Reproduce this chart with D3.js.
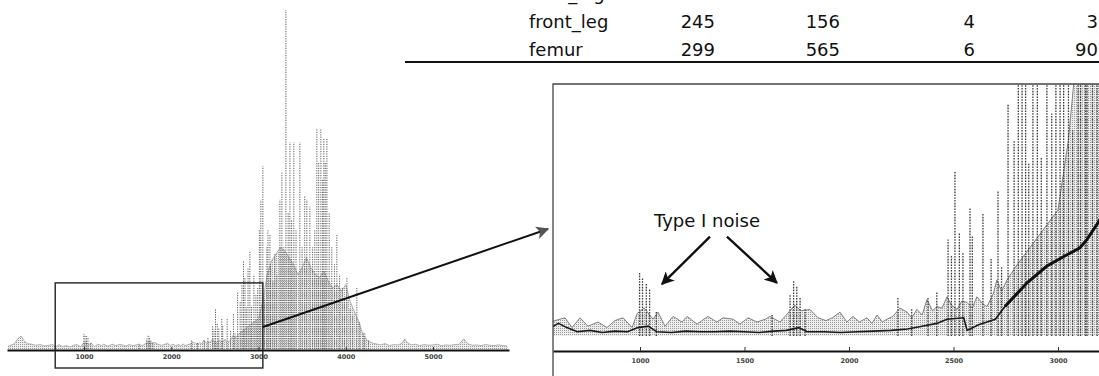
<!DOCTYPE html>
<html>
<head>
<meta charset="utf-8">
<script src="https://cdn.jsdelivr.net/npm/d3@7"></script>
<style>
  html, body { margin: 0; padding: 0; background: #fff; }
  svg { display: block; font-family: "DejaVu Sans", "Noto Sans", sans-serif; }
</style>
</head>
<body>
<svg id="fig" width="1099" height="376"></svg>
<script>
// ---- table rows (the top row is only partly on the page) ----
const rowLabels = ["hind_leg", "front_leg", "femur"];
const colA = [null, 245, 299];
const colB = [null, 156, 565];
const colC = [null, 4, 6];
const colD = [null, 3, 90];

// ---- spectrum: upper edge of the noise band (m/z, relative intensity) ----
const noiseMz = [130, 200, 240, 278, 310, 350, 400, 450, 500, 550, 593, 641, 675, 713, 751, 799, 842, 880, 919, 962,
  986, 1020, 1062, 1086, 1120, 1158, 1201, 1225, 1273, 1325, 1368, 1397, 1445, 1478, 1517, 1560, 1600, 1622, 1670, 1700,
  1740, 1770, 1813, 1852, 1890, 1920, 1957, 1990, 2019, 2050, 2086, 2110, 2134, 2160, 2182, 2210, 2244, 2278, 2300, 2325,
  2350, 2373, 2400, 2421, 2445, 2469, 2490, 2517, 2540, 2565, 2590, 2612, 2640, 2660, 2690, 2708, 2730, 2756, 2800, 2850,
  2900, 2950, 3000, 3050, 3100, 3150, 3200, 3250, 3300, 3350, 3400, 3450, 3500, 3550, 3600, 3650, 3700, 3750, 3800, 3850,
  3900, 3950, 4000, 4050, 4100, 4150, 4200, 4250, 4300, 4350, 4400, 4450, 4500, 4550, 4600, 4650, 4677, 4700, 4750, 4800,
  4850, 4900, 4950, 5000, 5050, 5100, 5150, 5200, 5250, 5300, 5353, 5400, 5450, 5500, 5550, 5600, 5650, 5700, 5750, 5800, 5850];
const noiseInt = [0.8, 1.5, 3.0, 3.8, 2.5, 1.6, 1.4, 1.1, 1.3, 0.9, 1.1, 1.3, 0.6, 1.3, 0.7, 1.0, 0.6, 1.1, 1.3, 0.6,
  1.6, 2.0, 1.2, 1.7, 0.7, 1.4, 1.0, 1.4, 0.85, 1.4, 1.0, 1.3, 1.2, 0.85, 1.3, 1.0, 1.2, 1.4, 1.0, 1.5,
  2.2, 1.8, 1.9, 1.3, 1.1, 1.3, 1.7, 1.0, 1.4, 1.0, 1.3, 0.9, 1.5, 1.0, 1.2, 1.4, 2.0, 1.7, 1.3, 1.9,
  1.5, 2.6, 1.8, 2.1, 2.0, 2.8, 2.2, 1.9, 2.5, 2.4, 2.0, 2.8, 2.3, 2.1, 3.0, 4.0, 3.2, 4.0, 5.0, 6.0,
  7.0, 8.0, 9.0, 14, 22, 26, 28, 30, 29, 27, 25, 22, 24, 27, 24, 22, 21, 23, 20, 18,
  19, 17, 19, 14, 11, 8, 4, 2.5, 1.8, 1.5, 1.2, 1.6, 1.0, 1.3, 1.2, 1.8, 3.0, 2.0, 1.2, 1.4,
  1.0, 1.3, 1.1, 1.2, 1.4, 1.0, 1.2, 1.1, 1.3, 1.4, 3.0, 1.5, 1.1, 1.2, 1.0, 1.3, 1.1, 1.0, 1.2, 1.0, 0.9];

// ---- spectrum: lower running profile ----
const profileMz = [130, 200, 250, 278, 300, 340, 400, 450, 500, 560, 610, 650, 700, 760, 820, 880, 940, 990, 1040, 1080,
  1150, 1220, 1290, 1360, 1430, 1500, 1570, 1640, 1700, 1760, 1800, 1880, 1960, 2040, 2120, 2200, 2280, 2350, 2420, 2469,
  2549, 2565, 2620, 2700, 2746, 2852, 2947, 3043, 3105, 3139, 3196, 3260, 3350, 3450, 3550, 3650, 3750, 3850, 3950, 4050,
  4150, 4220, 4300, 4400, 4500, 4600, 4677, 4720, 4800, 4900, 5000, 5100, 5200, 5300, 5353, 5400, 5500, 5600, 5700, 5850];
const profileInt = [0.5, 0.8, 2.5, 3.3, 2.0, 1.2, 1.0, 0.6, 0.8, 0.5, 0.9, 0.6, 0.3, 0.4, 0.25, 0.35, 0.3, 0.6, 0.7, 0.3,
  0.25, 0.35, 0.3, 0.3, 0.35, 0.3, 0.25, 0.35, 0.4, 0.6, 0.3, 0.3, 0.25, 0.3, 0.35, 0.4, 0.5, 0.7, 0.9, 1.2,
  1.3, 0.4, 0.8, 1.2, 2.1, 3.8, 5.0, 5.8, 6.3, 6.9, 8.2, 10, 12, 13, 13, 12, 11, 9, 7, 5,
  3, 1.2, 0.6, 0.5, 0.6, 0.8, 1.8, 0.9, 0.5, 0.6, 0.5, 0.6, 0.5, 0.8, 1.8, 0.7, 0.5, 0.6, 0.5, 0.5];

// ---- spectrum: individual peaks ----
const peakMz = [998, 1012, 1030, 1046, 1078, 1632, 1718, 1735, 1750, 1766, 1790, 2234, 2300, 2378, 2420, 2474, 2490, 2507, 2528, 2545,
  2579, 2590, 2641, 2680, 2713, 2730, 2761, 2790, 2810, 2828, 2845, 2860, 2880, 2901, 2920, 2947, 2970, 2990, 3010, 3027,
  3050, 3070, 3096, 3108, 3131, 3139, 3165, 3187, 3210, 3245, 3268, 3290, 3314, 3340, 3360, 3380, 3405, 3430, 3474, 3500,
  3530, 3554, 3589, 3620, 3645, 3669, 3690, 3715, 3735, 3749, 3765, 3784, 3810, 3840, 3870, 3898, 3930, 3960, 3985, 4013,
  4050, 4080, 4127, 4160, 4200, 4219, 4260];
const peakInt = [4.5, 4.2, 3.8, 3.4, 1.8, 1.5, 3.0, 4.0, 3.6, 2.8, 2.0, 2.8, 2.0, 2.8, 3.2, 6.9, 5.8, 11.8, 7.4, 6.0,
  9.2, 7.1, 8.8, 5.5, 10.4, 5.0, 16.6, 14.0, 19, 26, 21, 12.3, 24, 29, 12.8, 22, 15.9, 18, 35, 44,
  54, 14.7, 30, 35, 34, 25, 20, 28, 22, 44, 52, 30, 100, 40, 61, 38, 61, 35, 61, 30,
  45, 44, 42, 30, 35, 65, 55, 65, 50, 62, 55, 62, 40, 30, 25, 34, 22, 18, 15, 21,
  12, 10, 18, 8, 5, 4.7, 2.5];

// ---- axes and annotation ----
const mainTicks = [1000, 2000, 3000, 4000, 5000];
const insetTicks = [1000, 1500, 2000, 2500, 3000];
const zoomRange = [670, 3050];
const zoomTop = 19.5;
const noiseLabel = "Type I noise";
// arrow tails and tips in inset data units (m/z, intensity)
const noteTails = [[1335, 7.1], [1416, 7.1]];
const noteTips = [[1105, 3.7], [1655, 3.8]];

const svg = d3.select("#fig");
const defs = svg.append("defs");

// halftone-like stipple for the dense band
const pat = defs.append("pattern").attr("id", "stipple")
  .attr("width", 2).attr("height", 2).attr("patternUnits", "userSpaceOnUse");
pat.append("rect").attr("width", 2).attr("height", 2).attr("fill", "#ededed");
pat.append("rect").attr("width", 1).attr("height", 1).attr("fill", "#9c9c9c");

function arrowMarker(id, size, fill) {
  defs.append("marker").attr("id", id)
    .attr("viewBox", "0 0 10 10").attr("refX", 9).attr("refY", 5)
    .attr("markerWidth", size).attr("markerHeight", size)
    .attr("markerUnits", "userSpaceOnUse")
    .attr("orient", "auto")
    .append("path").attr("d", "M0,0 L10,5 L0,10 L2.5,5 Z").attr("fill", fill);
}
arrowMarker("headZoom", 13, "#555");
arrowMarker("headNote", 13, "#111");

const noisePts = noiseMz.map((m, i) => [m, noiseInt[i]]);
const profilePts = profileMz.map((m, i) => [m, profileInt[i]]);
const peakPts = peakMz.map((m, i) => [m, peakInt[i]]);

function drawSpectrum(g, x, y, opts) {
  const area = d3.area().x(d => x(d[0])).y0(y(0)).y1(d => y(d[1]));
  const line = d3.line().x(d => x(d[0])).y(d => y(d[1]));
  const drawProfile = () => {
    g.append("path").datum(profilePts).attr("d", line)
      .attr("fill", "none").attr("stroke", "#1a1a1a").attr("stroke-width", opts.profW);
    if (opts.thickFrom) {
      g.append("path").datum(profilePts.filter(d => d[0] >= opts.thickFrom)).attr("d", line)
        .attr("fill", "none").attr("stroke", "#111").attr("stroke-width", 3);
    }
  };
  if (!opts.profileOnTop) drawProfile();
  g.append("path").datum(noisePts).attr("d", area).attr("fill", "url(#stipple)");
  g.append("path").datum(noisePts).attr("d", line)
    .attr("fill", "none").attr("stroke", opts.noiseColor).attr("stroke-width", opts.noiseW);
  g.selectAll("line.peak").data(peakPts).join("line").attr("class", "peak")
    .attr("x1", d => x(d[0])).attr("x2", d => x(d[0]))
    .attr("y1", y(0)).attr("y2", d => y(d[1]))
    .attr("stroke", opts.peakColor).attr("stroke-width", opts.peakW)
    .attr("stroke-dasharray", opts.dash);
  if (opts.profileOnTop) drawProfile();
}

// ================= overview spectrum =================
const xMain = d3.scaleLinear().domain([1000, 5000]).range([84, 433]);
xMain.domain([xMain.invert(7), xMain.invert(509)]).range([7, 509]);
const yMain = d3.scaleLinear().domain([0, 100]).range([349, 10]);

defs.append("clipPath").attr("id", "clipMain")
  .append("rect").attr("x", 7).attr("y", 0).attr("width", 502).attr("height", 350);
const gMain = svg.append("g").attr("clip-path", "url(#clipMain)");
drawSpectrum(gMain, xMain, yMain,
  { noiseW: 0.8, noiseColor: "#a0a0a0", peakW: 1, dash: "1.2,1.2", profW: 1.3, peakColor: "#5a5a5a", profileOnTop: false });

const axMain = svg.append("g").attr("transform", "translate(0,350)")
  .call(d3.axisBottom(xMain).tickValues(mainTicks).tickFormat(d3.format("d"))
    .tickSize(-3).tickPadding(4).tickSizeOuter(0));
axMain.select(".domain").attr("stroke", "#111").attr("stroke-width", 2);
axMain.selectAll(".tick line").attr("stroke", "#333");
axMain.selectAll("text").attr("font-size", 6.5).attr("font-weight", "bold").attr("fill", "#444")
  .attr("font-family", "DejaVu Sans");

// zoom window on the overview
const boxX0 = xMain(zoomRange[0]), boxX1 = xMain(zoomRange[1]);
svg.append("rect").attr("x", boxX0).attr("y", yMain(zoomTop))
  .attr("width", boxX1 - boxX0).attr("height", 368 - yMain(zoomTop))
  .attr("fill", "none").attr("stroke", "#222").attr("stroke-width", 1.4);

// ================= magnified inset =================
const xIn = d3.scaleLinear().domain([1000, 3000]).range([640, 1058]);
xIn.domain([xIn.invert(553), xIn.invert(1099)]).range([553, 1099]);
const yIn = d3.scaleLinear().domain([0, 18]).range([336, 84]);

defs.append("clipPath").attr("id", "clipInset")
  .append("rect").attr("x", 553).attr("y", 84).attr("width", 546).attr("height", 266);
const gIn = svg.append("g").attr("clip-path", "url(#clipInset)");
drawSpectrum(gIn, xIn, yIn,
  { noiseW: 1, noiseColor: "#808080", peakW: 1.3, dash: "1.6,1.2", profW: 1.6, thickFrom: 2746, peakColor: "#3a3a3a", profileOnTop: true });

const axIn = svg.append("g").attr("transform", "translate(0,351)")
  .call(d3.axisBottom(xIn).tickValues(insetTicks).tickFormat(d3.format("d"))
    .tickSize(-4).tickPadding(7).tickSizeOuter(0));
axIn.select(".domain").attr("stroke", "#111").attr("stroke-width", 2);
axIn.selectAll(".tick line").attr("stroke", "#333");
axIn.selectAll("text").attr("font-size", 6.5).attr("font-weight", "bold").attr("fill", "#444")
  .attr("font-family", "DejaVu Sans");

// inset frame
svg.append("path").attr("d", "M553,376 L553,84 L1099,84")
  .attr("fill", "none").attr("stroke", "#444").attr("stroke-width", 1.3);

// link from the zoom window to the inset
svg.append("line").attr("x1", boxX1).attr("y1", 327).attr("x2", 548).attr("y2", 229)
  .attr("stroke", "#111").attr("stroke-width", 2).attr("marker-end", "url(#headZoom)");

// annotation
svg.append("text").attr("x", 707).attr("y", 227).attr("text-anchor", "middle")
  .attr("font-size", 18).attr("fill", "#111").text(noiseLabel);
noteTips.forEach((tip, i) => {
  const tail = noteTails[i];
  svg.append("line")
    .attr("x1", xIn(tail[0])).attr("y1", yIn(tail[1]))
    .attr("x2", xIn(tip[0])).attr("y2", yIn(tip[1]))
    .attr("stroke", "#111").attr("stroke-width", 2.4).attr("marker-end", "url(#headNote)");
});

// ================= table =================
const tbl = svg.append("g").attr("font-size", 18).attr("fill", "#111");
const rowY = [0, 28, 56];
const cols = [colA, colB, colC, colD];
const colRight = [715, 840, 975, 1098];
rowLabels.forEach((lab, r) => {
  tbl.append("text").attr("x", 529).attr("y", rowY[r]).text(lab);
  cols.forEach((c, k) => {
    if (c[r] !== null) {
      tbl.append("text").attr("x", colRight[k]).attr("y", rowY[r])
        .attr("text-anchor", "end").text(c[r]);
    }
  });
});
svg.append("line").attr("x1", 405).attr("x2", 1099).attr("y1", 62).attr("y2", 62)
  .attr("stroke", "#111").attr("stroke-width", 2);
</script>
</body>
</html>
